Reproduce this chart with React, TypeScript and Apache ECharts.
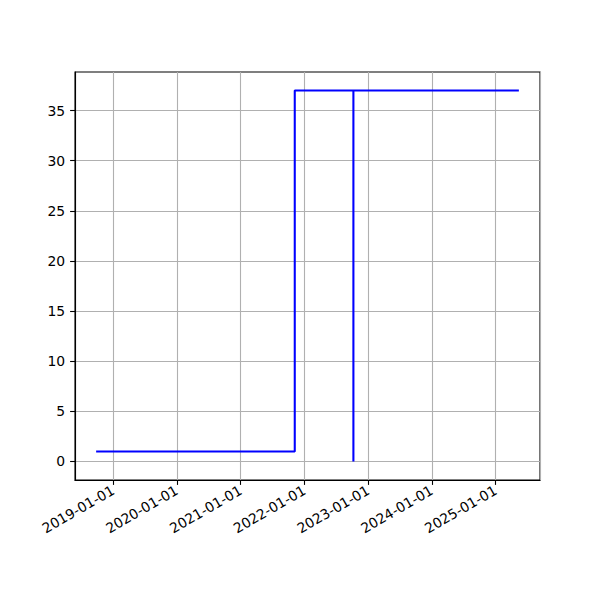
import React, { useEffect, useRef } from "react";
import * as echarts from "echarts";

// Data (unsorted points drawn as steps-post, like the reference)
const pointDates: string[] = ["2018-09-26", "2021-11-07", "2025-05-14", "2022-10-09"];
const pointValues: number[] = [1, 37, 37, 0];
const yTicks: number[] = [0, 5, 10, 15, 20, 25, 30, 35];

const toTs = (s: string) => {
  const [y, m, d] = s.split("-").map(Number);
  return Date.UTC(y, m - 1, d);
};

const pad2 = (n: number) => (n < 10 ? "0" + n : "" + n);
const fmtDate = (v: number) => {
  const d = new Date(v);
  return `${d.getUTCFullYear()}-${pad2(d.getUTCMonth() + 1)}-${pad2(d.getUTCDate())}`;
};

export default function App() {
  const ref = useRef<HTMLDivElement>(null);
  useEffect(() => {
    if (!ref.current) return;
    const chart = echarts.init(ref.current, undefined, { renderer: "svg" });
    const ts = pointDates.map(toTs);
    const tMin = Math.min(...ts);
    const tMax = Math.max(...ts);
    const tPad = (tMax - tMin) * 0.05;
    const vMin = Math.min(...pointValues);
    const vMax = Math.max(...pointValues);
    const vPad = (vMax - vMin) * 0.05;
    const font = "DejaVu Sans";
    const DAY = 86400000;
    chart.setOption({
      animation: false,
      useUTC: true,
      backgroundColor: "#ffffff",
      grid: {
        left: 75,
        right: 60,
        top: 72,
        bottom: 120,
        show: true,
        borderColor: "#000000",
        borderWidth: 1.1,
        backgroundColor: "transparent",
      },
      xAxis: {
        type: "time",
        min: tMin - tPad,
        max: tMax + tPad,
        splitNumber: 7,
        minInterval: 365 * DAY,
        maxInterval: 366 * DAY,
        axisLine: { show: true, onZero: false, lineStyle: { color: "#000", width: 1.1 } },
        axisTick: {
          show: true,
          length: 4.9,
          lineStyle: { color: "#000", width: 1.1 },
        },
        axisLabel: {
          formatter: (v: number) => fmtDate(v),
          showMinLabel: false,
          showMaxLabel: false,
          rotate: 30,
          margin: 9,
          color: "#000",
          fontFamily: font,
          fontSize: 13.9,
        },
        splitLine: { show: true, lineStyle: { color: "#b0b0b0", width: 1.1 } },
      },
      yAxis: {
        type: "value",
        min: vMin - vPad,
        max: vMax + vPad,
        splitNumber: 8,
        minInterval: 5,
        maxInterval: 5,
        axisLine: { show: true, onZero: false, lineStyle: { color: "#000", width: 1.1 } },
        axisTick: {
          show: true,
          length: 4.9,
          lineStyle: { color: "#000", width: 1.1 },
          customValues: yTicks,
        },
        axisLabel: {
          customValues: yTicks,
          margin: 9.8,
          color: "#000",
          fontFamily: font,
          fontSize: 13.9,
        },
        splitLine: { show: true, lineStyle: { color: "#b0b0b0", width: 1.1 } },
      },
      series: [
        {
          type: "line",
          step: "end",
          data: ts.map((t, i) => [t, pointValues[i]]),
          showSymbol: false,
          symbol: "none",
          lineStyle: { color: "#0000ff", width: 2.08 },
          clip: true,
        },
      ],
    });
    return () => chart.dispose();
  }, []);
  return (
    <div
      ref={ref}
      style={{ position: "absolute", left: 0, top: 0, width: 600, height: 600 }}
    />
  );
}
